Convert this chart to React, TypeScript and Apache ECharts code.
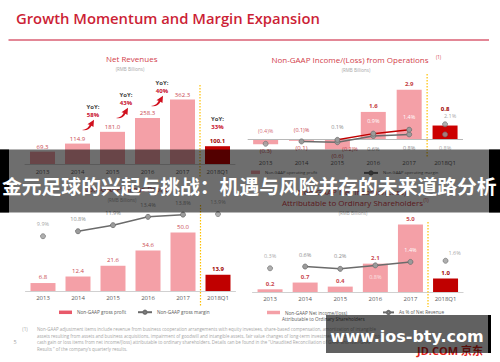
import React, { useEffect, useRef } from "react";
import * as echarts from "echarts";

// ---------- data ----------
const years = ["2013", "2014", "2015", "2016", "2017", "2018Q1"];

const netRevenue = [69.3, 114.9, 181.0, 258.3, 362.3, 100.1];
const yoyGrowth = ["58%", "43%", "40%", "33%"];

const opIncome = [-0.3, -0.1, -0.6, 1.6, 2.9, 0.8];
const opMargin = [-0.4, -0.1, -0.2, 0.6, 0.8, 0.8];
const opMarginAlt: (number | null)[] = [null, null, 0.1, 0.9, 1.4, 2.1];

const grossProfit = [6.8, 12.4, 21.6, 34.6, 50.0, 13.9];
const grossMargin = [9.9, 10.8, 11.9, 13.4, 13.8, 13.9];

const netIncome = [0.2, 0.7, 0.4, 2.1, 5.0, 1.0];
const netMargin = [0.3, 0.6, 0.2, 0.8, 1.4, 1.6];

const footnoteLines = [
  "Non-GAAP adjustment items include revenue from business cooperation arrangements with equity investees, share-based compensation, amortization of intangible",
  "assets resulting from assets and business acquisitions, impairment of goodwill and intangible assets, fair value changes of long-term investments, and certain large non-",
  "cash gain or loss items from net income/(loss) attributable to ordinary shareholders. Details can be found in the \u201cUnaudited Reconciliation of GAAP and Non-GAAP",
  "Results \u201d of the company\u2019s quarterly results.",
];

// ---------- styles ----------
const FONT = "'Open Sans', 'Liberation Sans', sans-serif";
const PINK = "#f4a0a7";
const DARK = "#c00000";
const LABEL_RED = "#c9484f";
const DARK_LABEL = "#9e0000";
const GRAY_LINE = "#6b6b6b";
const GRAY_TXT = "#8c8c8c";
const AXIS_TXT = "#595959";
const TITLE_RED = "#d2404a";

const ARROW_PATH = "path://M0 10 C3 10 6 8 7 5 L5 4.5 L11 0 L10.5 7 L8.7 5.8 C7.5 9 4 11 0 10 Z";

const num = (v: number) => (v < 0 ? `(${Math.abs(v).toFixed(1)})` : v.toFixed(1));
const pct = (v: number) => (v < 0 ? `(${Math.abs(v).toFixed(1)})%` : `${v.toFixed(1)}%`);
const valOf = (p: any) => (typeof p.value === "number" ? p.value : Number(p.value));

const symbolStyle = { color: "#9b9b9b", borderColor: "#6e6e6e", borderWidth: 0.8 };

function segment(vals: (number | null)[], from: number, to: number, labels: any[]) {
  return vals.map((v, i) =>
    i >= from && i <= to && v != null ? { value: v, label: labels[i] } : "-"
  );
}
function isolated(vals: (number | null)[], idx: number[], labels: any[]) {
  return vals.map((v, i) => (idx.includes(i) && v != null ? { value: v, label: labels[i] } : "-"));
}

function txt(text: string, x: number, y: number, o: any = {}) {
  const align = o.align || "center";
  return {
    type: "text",
    x,
    y,
    z: o.z ?? 10,
    style: {
      text,
      fontSize: o.size || 6,
      fontFamily: o.font || FONT,
      fontWeight: o.weight || "normal",
      fill: o.color || AXIS_TXT,
      align,
      verticalAlign: "middle",
      textAlign: align,
      textVerticalAlign: "middle",
    },
  };
}

// label configurations (positions/colours per point)
const opIncomeLabels = opIncome.map((v, i) =>
  v < 0
    ? { position: "bottom", distance: 4, color: LABEL_RED }
    : i === 5
    ? { position: "top", distance: 14, color: DARK_LABEL, fontWeight: "bold" }
    : { position: "top", distance: 3, color: "#c23a40", fontWeight: "bold" }
);
const opMarginLabels = [
  { position: "top", distance: 7, color: LABEL_RED },
  { position: "top", distance: 6, color: LABEL_RED },
  { position: "right", distance: 2, offset: [0, 7], color: LABEL_RED },
  { position: "bottom", distance: 7, color: GRAY_TXT },
  { position: "bottom", distance: 8, color: GRAY_TXT },
  { position: "bottom", distance: 8, color: GRAY_TXT },
];
const opMarginAltLabels = [
  null,
  null,
  { position: "top", distance: 7, color: GRAY_TXT },
  { position: "top", distance: 7, color: "#ffffff" },
  { position: "top", distance: 7, color: "#ffffff" },
  { position: "top", distance: 2, offset: [5, 0], color: GRAY_TXT },
];
const grossMarginLabels = grossMargin.map(() => ({ position: "top", distance: 6, color: GRAY_TXT }));
const netMarginLabels = [
  { position: "top", distance: 6, color: GRAY_TXT },
  { position: "top", distance: 6, color: GRAY_TXT },
  { position: "top", distance: 7, color: GRAY_TXT },
  { position: "bottom", distance: 6, color: "#fbe3e5" },
  { position: "top", distance: 6, color: "#ffffff" },
  { position: "top", distance: 2, offset: [9, 0], color: GRAY_TXT },
];

// YoY annotation placement: [text x, "YoY:" y, value y, arrow centre x, arrow centre y]
const yoyPos = [
  [93, 107, 115, 88, 125],
  [126, 95, 102.5, 122, 113],
  [162, 83, 91, 157, 101],
  [217.5, 118.5, 127, -1, -1],
];

function barData(vals: number[], labelNormal: any, labelLast: any) {
  return vals.map((v, i) => ({
    value: v,
    itemStyle: { color: i === vals.length - 1 ? DARK : PINK },
    label: i === vals.length - 1 ? labelLast : labelNormal,
  }));
}

function lineSeries(name: string, xi: number, yi: number, vals: any[], labels: any[], from: number, to: number, color: string) {
  return {
    type: "line",
    name,
    xAxisIndex: xi,
    yAxisIndex: yi,
    data: segment(vals, from, to, labels),
    symbol: "circle",
    symbolSize: 5,
    showAllSymbol: true,
    itemStyle: symbolStyle,
    lineStyle: { color, width: 1.5 },
    label: { show: true, fontSize: 5.5, fontFamily: FONT, formatter: (p: any) => pct(valOf(p)) },
    z: 5,
  };
}
function isoSeries(name: string, xi: number, yi: number, vals: any[], labels: any[], idx: number[]) {
  return {
    type: "scatter",
    name,
    xAxisIndex: xi,
    yAxisIndex: yi,
    data: isolated(vals, idx, labels),
    symbol: "circle",
    symbolSize: 5,
    itemStyle: symbolStyle,
    label: { show: true, fontSize: 5.5, fontFamily: FONT, formatter: (p: any) => pct(valOf(p)) },
    z: 6,
  };
}

const barLabelBase = {
  show: true,
  position: "top",
  distance: 2,
  fontSize: 6,
  fontFamily: FONT,
  color: LABEL_RED,
};

function xAxis(gi: number, margin: number, showLine: boolean) {
  return {
    type: "category",
    gridIndex: gi,
    data: years,
    axisTick: { show: false },
    axisLine: { show: showLine, onZero: false, lineStyle: { color: "#d0d0d0", width: 1 } },
    axisLabel: { fontSize: 6, color: AXIS_TXT, fontFamily: FONT, margin, interval: 0 },
  };
}
function yAxis(gi: number, min: number, max: number) {
  return { type: "value", gridIndex: gi, min, max, show: false, splitLine: { show: false } };
}

function legendItem(name: string, left: number, top: number, w: number, h: number, size: number, icon?: string, color?: string) {
  const d: any = { name };
  if (icon) d.icon = icon;
  if (color) d.itemStyle = { color };
  return {
    data: [d],
    left,
    top,
    padding: 0,
    itemWidth: w,
    itemHeight: h,
    selectedMode: false,
    textStyle: { fontSize: size, color: AXIS_TXT, fontFamily: FONT },
  };
}

function buildOption() {
  return {
    animation: false,
    backgroundColor: "#ffffff",
    grid: [
      { left: 25, top: 84, width: 210, height: 80 },
      { left: 247.7, top: 83, width: 215.3, height: 74 },
      { left: 25.5, top: 208, width: 210, height: 83 },
      { left: 252.5, top: 211, width: 210.6, height: 81 },
    ],
    xAxis: [xAxis(0, 5, true), xAxis(1, 3, false), xAxis(2, 4, true), xAxis(3, 4, true)],
    yAxis: [
      yAxis(0, 0, 450),
      yAxis(1, -1.05, 3.3),
      yAxis(1, -2.1, 7.4),
      yAxis(2, 0, 71),
      yAxis(2, 0, 15),
      yAxis(3, 0, 6),
      yAxis(3, -3.8, 10.2),
    ],
    legend: [
      legendItem("Non-GAAP operating profit", 251, 170.3, 9, 3.5, 4.2, "rect", PINK),
      legendItem("Non-GAAP operating margin", 363, 170.3, 14, 4, 4.2),
      legendItem("Non-GAAP gross profit", 59, 309.8, 13, 3.5, 4.7, "rect", "#e8596a"),
      legendItem("Non-GAAP gross margin", 137, 309.6, 14, 4, 4.7),
      legendItem("Non-GAAP Net income/(loss)", 267, 310, 13, 3.5, 4.7, "rect", PINK),
      legendItem("As % of Net Revenue", 382, 309.8, 11, 4, 4.7),
    ],
    series: [
      // top-left: net revenues
      {
        type: "bar",
        name: "Net Revenues",
        xAxisIndex: 0,
        yAxisIndex: 0,
        barWidth: 25,
        itemStyle: { color: PINK },
        data: barData(netRevenue, undefined, { fontWeight: "bold", color: DARK_LABEL }),
        label: { ...barLabelBase, formatter: (p: any) => num(valOf(p)) },
        markPoint: {
          silent: true,
          symbol: ARROW_PATH,
          symbolSize: [12, 10.5],
          itemStyle: { color: "#d0101e" },
          label: { show: false },
          data: yoyPos.filter((p) => p[3] > 0).map((p) => ({ x: p[3], y: p[4] })),
        },
      },
      // top-right: operating income
      {
        type: "bar",
        name: "Non-GAAP operating profit",
        xAxisIndex: 1,
        yAxisIndex: 1,
        barWidth: 25,
        itemStyle: { color: PINK },
        data: opIncome.map((v, i) => ({
          value: v,
          itemStyle: { color: i === opIncome.length - 1 ? "#cc0000" : PINK },
          label: opIncomeLabels[i],
        })),
        label: { ...barLabelBase, formatter: (p: any) => num(valOf(p)) },
        markLine: {
          silent: true,
          symbol: ["none", "none"],
          label: { show: false },
          lineStyle: { color: "#b8b8b8", type: "solid", width: 1 },
          data: [{ yAxis: 0 }],
        },
      },
      lineSeries("Non-GAAP operating margin", 1, 2, opMargin, opMarginLabels, 1, 4, GRAY_LINE),
      isoSeries("opMarginIso", 1, 2, opMargin, opMarginLabels, [0, 5]),
      lineSeries("opMarginAlt", 1, 2, opMarginAlt, opMarginAltLabels, 2, 4, "#c00000"),
      isoSeries("opMarginAltIso", 1, 2, opMarginAlt, opMarginAltLabels, [5]),
      // bottom-left: gross profit
      {
        type: "bar",
        name: "Non-GAAP gross profit",
        xAxisIndex: 2,
        yAxisIndex: 3,
        barWidth: 25,
        itemStyle: { color: PINK },
        data: barData(grossProfit, undefined, { fontWeight: "bold", color: DARK_LABEL }),
        label: { ...barLabelBase, distance: 3, formatter: (p: any) => num(valOf(p)) },
      },
      lineSeries("Non-GAAP gross margin", 2, 4, grossMargin, grossMarginLabels, 1, 4, GRAY_LINE),
      isoSeries("grossMarginIso", 2, 4, grossMargin, grossMarginLabels, [0, 5]),
      // bottom-right: net income
      {
        type: "bar",
        name: "Non-GAAP Net income/(loss)",
        xAxisIndex: 3,
        yAxisIndex: 5,
        barWidth: 25,
        itemStyle: { color: PINK },
        data: barData(netIncome, { fontWeight: "bold" }, { fontWeight: "bold", color: DARK_LABEL }),
        label: { ...barLabelBase, distance: 2.5, formatter: (p: any) => num(valOf(p)) },
      },
      lineSeries("As % of Net Revenue", 3, 6, netMargin, netMarginLabels, 1, 4, GRAY_LINE),
      isoSeries("netMarginIso", 3, 6, netMargin, netMarginLabels, [0, 5]),
    ],
  };
}

function buildGraphics(chart: echarts.ECharts) {
  const g: any[] = [];
  // header
  g.push(txt("Growth Momentum and Margin Expansion", 16, 17.5, { size: 14.8, weight: 600, color: "#cc1f36", align: "left" }));
  g.push({ type: "line", z: 10, shape: { x1: 8.5, y1: 40, x2: 489, y2: 40 }, style: { stroke: "#c8102e", lineWidth: 1.2 } });

  // chart titles
  g.push(txt("Net Revenues", 131.7, 58.3, { size: 8, color: TITLE_RED }));
  g.push(txt("(RMB Billions)", 130, 69, { size: 4.5, color: "#a6a6a6" }));
  g.push(txt("Non-GAAP Income/(Loss) from Operations", 350, 59.3, { size: 8, color: TITLE_RED }));
  g.push(txt("(1)", 438.5, 56.5, { size: 4.5, color: TITLE_RED }));
  g.push(txt("(RMB Billions)", 356, 70, { size: 4.5, color: "#a6a6a6" }));
  g.push(txt("Non-GAAP Gross Profit", 125, 188, { size: 8, color: TITLE_RED }));
  g.push(txt("(RMB Billions)", 122, 199.5, { size: 4.5, color: "#a6a6a6" }));
  g.push(txt("Non-GAAP Net Income/(Loss)", 352, 191, { size: 8, color: TITLE_RED }));
  g.push(txt("Attributable to Ordinary Shareholders", 352.5, 202.7, { size: 8, color: TITLE_RED }));
  g.push(txt("(1)", 426, 200, { size: 4.5, color: TITLE_RED }));
  g.push(txt("(RMB Billions)", 353, 212.8, { size: 4.5, color: "#a6a6a6" }));
  g.push(txt("Attributable to Ordinary Shareholders", 282, 319.3, { size: 4.7, align: "left" }));

  // YoY annotations (text)
  yoyGrowth.forEach((s, i) => {
    const [x, y1, y2] = yoyPos[i];
    g.push(txt("YoY:", x, y1, { size: 6, weight: "bold", color: "#4a4a4a" }));
    g.push(txt(s, x, y2, { size: 6, weight: "bold", color: "#c8102e" }));
  });

  // dividers between 2017 and 2018Q1
  const spans = [
    [0, 85, 177],
    [1, 74, 158],
    [2, 205, 306],
    [3, 222, 307],
  ];
  spans.forEach(([xi, y1, y2]) => {
    const a = chart.convertToPixel({ xAxisIndex: xi } as any, "2017") as unknown as number;
    const b = chart.convertToPixel({ xAxisIndex: xi } as any, "2018Q1") as unknown as number;
    const x = (a + b) / 2;
    g.push({ type: "line", z: 9, shape: { x1: x, y1, x2: x, y2 }, style: { stroke: "#ffc000", lineWidth: 1.2, lineDash: [1.6, 1.4] } });
  });

  // footnote
  g.push(txt("(1)", 25, 329, { size: 4.6, color: "#a6a6a6" }));
  g.push(txt("5", 15, 342.3, { size: 5.5, color: "#a6a6a6" }));
  footnoteLines.forEach((line, i) => {
    g.push(txt(line, 37, 329 + i * 6.55, { size: 4.45, color: "#a6a6a6", align: "left" }));
  });

  // overlay band
  g.push({ type: "rect", z: 100, shape: { x: 0, y: 149.5, width: 500, height: 63 }, style: { fill: "rgba(0,0,0,0.57)" } });
  g.push({ type: "rect", z: 101, shape: { x: 0, y: 149.5, width: 9, height: 63 }, style: { fill: "#000" } });
  g.push({ type: "rect", z: 101, shape: { x: 489, y: 149.5, width: 11, height: 63 }, style: { fill: "#000" } });
  g.push(
    txt("金元足球的兴起与挑战：机遇与风险并存的未来道路分析", 2, 185.5, {
      size: 19.8,
      weight: "bold",
      color: "#ffffff",
      align: "left",
      font: "'Noto Sans CJK SC', sans-serif",
      z: 102,
    })
  );

  // watermark
  g.push(txt("JD.COM 京东", 417, 350, { size: 11, weight: "bold", color: "#e1251b", align: "left", font: "'Open Sans', 'Noto Sans CJK SC', sans-serif", z: 100 }));
  g.push({ type: "rect", z: 101, shape: { x: 326, y: 315, width: 163, height: 38 }, style: { fill: "rgba(0,0,0,0.62)" } });
  g.push({ type: "rect", z: 101, shape: { x: 488, y: 315, width: 3, height: 38 }, style: { fill: "#000" } });
  g.push(txt("www.ios-bty.com", 407, 336, { size: 16, weight: "bold", color: "#ffffff", font: "'DejaVu Sans', sans-serif", z: 102 }));
  return g;
}

export default function App() {
  const ref = useRef<HTMLDivElement>(null);
  useEffect(() => {
    if (!ref.current) return;
    const chart = echarts.init(ref.current, null, { renderer: "svg" });
    chart.setOption(buildOption() as any);
    chart.setOption({ graphic: { elements: buildGraphics(chart) } } as any);
    return () => chart.dispose();
  }, []);
  return (
    <div
      ref={ref}
      style={{ position: "absolute", left: 0, top: 0, width: 500, height: 362, background: "#ffffff" }}
    />
  );
}
